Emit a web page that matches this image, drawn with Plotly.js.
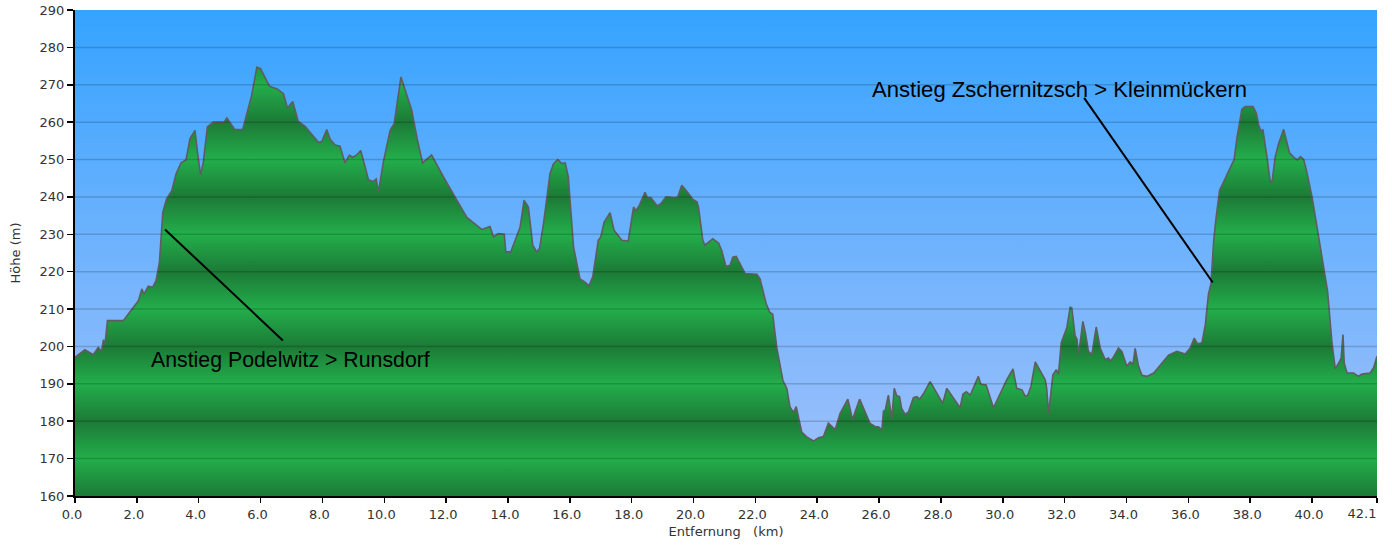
<!DOCTYPE html>
<html>
<head>
<meta charset="utf-8">
<script src="https://cdn.plot.ly/plotly-3.0.1.min.js"></script>
<style>html,body{margin:0;padding:0;background:#fff;}#chart{width:1392px;height:546px;}</style>
</head>
<body>
<div id="chart"></div>
<script>
// Distance along the route (km)
const distanceKm = [
  0, 0.32, 0.59, 0.75, 0.86, 0.92, 0.97, 1.05, 1.56, 2.05,
  2.16, 2.23, 2.37, 2.51, 2.62, 2.73, 2.84, 2.96, 3.13, 3.27,
  3.43, 3.59, 3.72, 3.88, 3.96, 4.06, 4.15, 4.28, 4.47, 4.82,
  4.91, 5.17, 5.42, 5.71, 5.88, 6.0, 6.29, 6.54, 6.74, 6.87,
  7.04, 7.22, 7.44, 7.87, 7.98, 8.14, 8.25, 8.41, 8.57, 8.73,
  8.87, 8.98, 9.09, 9.24, 9.49, 9.63, 9.74, 9.81, 9.97, 10.19,
  10.32, 10.54, 10.89,
  11.07, 11.24, 11.53, 11.91, 12.29, 12.67, 13.15, 13.42, 13.53, 13.69,
  13.88, 13.93, 14.09, 14.23, 14.39, 14.52, 14.66, 14.8, 14.93, 15.02,
  15.15, 15.36, 15.47, 15.61, 15.74, 15.85, 15.95, 16.12, 16.33, 16.49,
  16.62, 16.74, 16.92, 17.0, 17.11, 17.3, 17.43, 17.68, 17.89, 18.06,
  18.14, 18.25, 18.36, 18.43, 18.51, 18.62, 18.83, 18.94, 19.11, 19.35,
  19.49, 19.62, 19.84, 19.98, 20.11, 20.16, 20.3, 20.37, 20.62, 20.81,
  20.91, 21.05, 21.18, 21.27, 21.38, 21.49, 21.67, 22.05, 22.15, 22.35,
  22.46, 22.56, 22.69, 22.89, 23.02, 23.12,
  23.18, 23.25, 23.32, 23.5, 23.66, 23.88, 24.04, 24.2, 24.36, 24.58,
  24.74, 24.99, 25.14, 25.37, 25.71, 25.87, 25.98, 26.09, 26.14, 26.2,
  26.3, 26.41, 26.49, 26.57, 26.66, 26.73, 26.84, 26.95, 27.11, 27.22,
  27.31, 27.46, 27.65, 28.06, 28.19, 28.62, 28.71, 28.82, 28.95, 29.21,
  29.29, 29.46, 29.7, 30.13, 30.33, 30.45, 30.62, 30.72, 30.8, 30.91,
  31.05, 31.37, 31.42, 31.48, 31.62, 31.73, 31.8, 31.89, 32.02, 32.07,
  32.18, 32.23, 32.34, 32.4, 32.45, 32.5, 32.59, 32.67, 32.77, 32.88,
  33.02, 33.15, 33.31, 33.42, 33.47, 33.56, 33.74, 33.85, 34.01, 34.12,
  34.21, 34.28, 34.39, 34.5, 34.66, 34.88, 35.09, 35.36, 35.63, 35.9,
  36.06, 36.19, 36.3, 36.44, 36.55, 36.65, 36.73, 36.82, 36.9, 37.01,
  37.14, 37.33, 37.48, 37.57, 37.73, 37.84, 38.09, 38.2, 38.27, 38.35,
  38.41, 38.54, 38.65, 38.71, 38.81, 38.92, 39.08, 39.27, 39.42, 39.53,
  39.62, 39.73, 39.83, 40.0, 40.27, 40.46, 40.5, 40.64, 40.75, 40.89,
  40.94, 41.0, 41.04, 41.13, 41.34, 41.5, 41.61, 41.88, 41.99, 42.1
];

// Elevation (m)
const elevationM = [
  197.1, 199.1, 197.8, 199.7, 198.8, 201.8, 200.6, 206.9, 206.9, 212.2,
  215.4, 214.0, 216.1, 215.8, 217.6, 222.5, 235.9, 239.5, 241.7, 246.2,
  249.1, 249.9, 255.7, 257.8, 252.0, 245.9, 249.3, 258.7, 260.0, 260.0,
  261.1, 258.0, 258.0, 267.1, 274.7, 274.3, 269.6, 268.9, 267.6, 263.8,
  265.5, 260.2, 258.9, 254.6, 254.8, 258.0, 255.4, 253.9, 253.6, 249.1,
  251.1, 250.6, 251.1, 252.4, 244.6, 244.1, 244.8, 241.3, 249.3, 257.8,
  259.6, 272.1, 263.1,
  255.3, 249.1, 251.2, 245.4, 240.0, 234.5, 231.3, 232.1, 229.3, 230.2,
  230.0, 225.3, 225.3, 228.4, 231.8, 239.1, 237.3, 227.1, 225.3, 226.2,
  232.9, 246.3, 248.8, 250.0, 248.9, 249.1, 245.4, 226.6, 218.1, 217.2,
  216.2, 218.6, 228.4, 229.3, 233.3, 235.8, 231.1, 228.4, 228.2, 237.3,
  236.3, 237.8, 240.2, 241.2, 239.8, 239.8, 237.6, 238.2, 240.0, 239.8,
  240.0, 243.1, 240.9, 239.3, 238.7, 237.3, 228.4, 227.1, 228.8, 227.7,
  225.7, 221.4, 221.7, 223.9, 224.1, 222.3, 219.5, 219.3, 218.1, 211.4,
  209.2, 208.6, 199.8, 190.9, 188.7, 183.8,
  183.0, 182.5, 183.9, 177.1, 175.8, 174.7, 175.6, 175.9, 179.5, 177.8,
  182.1, 185.9, 180.5, 185.9, 179.4, 178.6, 178.5, 177.7, 182.7, 183.0,
  187.0, 180.7, 188.8, 186.8, 186.6, 183.4, 181.8, 182.5, 186.3, 186.6,
  185.9, 187.7, 190.6, 184.8, 188.8, 183.6, 187.2, 187.9, 187.0, 192.0,
  189.9, 189.7, 183.6, 191.1, 194.0, 188.8, 188.4, 186.8, 186.8, 189.3,
  195.9, 191.1, 188.8, 182.1, 192.4, 193.8, 192.6, 201.0, 204.1, 205.0,
  210.5, 210.3, 202.8, 201.9, 197.8, 201.6, 206.7, 203.7, 198.7, 197.8,
  205.2, 199.6, 196.5, 196.9, 196.1, 196.9, 199.6, 198.7, 194.7, 195.9,
  195.3, 199.5, 194.7, 192.3, 192.0, 192.9, 195.0, 197.7, 198.7, 198.0,
  199.6, 202.2, 200.7, 201.0, 205.9, 214.0, 216.7, 228.3, 234.6, 241.8,
  244.0, 247.6, 250.0, 255.7, 263.5, 264.2, 264.2, 262.4, 259.3, 257.5,
  258.1, 250.8, 244.0, 244.3, 250.8, 254.3, 258.1, 251.8, 250.5, 249.9,
  250.8, 250.0, 246.7, 240.0, 226.5, 216.7, 214.9, 201.4, 194.0, 196.0,
  196.9, 203.2, 195.6, 192.9, 192.9, 192.0, 192.6, 192.9, 194.3, 197.4
];

// Axis ticks
const xTickValues = [0,2,4,6,8,10,12,14,16,18,20,22,24,26,28,30,32,34,36,38,40,42.1];
const xTickLabels = ["0.0","2.0","4.0","6.0","8.0","10.0","12.0","14.0","16.0","18.0","20.0","22.0","24.0","26.0","28.0","30.0","32.0","34.0","36.0","38.0","40.0","42.1"];
const yTickValues = [160,170,180,190,200,210,220,230,240,250,260,270,280,290];

// Annotation labels
const climbLabels = ["Anstieg Podelwitz > Runsdorf", "Anstieg Zschernitzsch > Kleinmückern"];

const xMin = xTickValues[0], xMax = xTickValues[xTickValues.length-1];
const yMin = yTickValues[0], yMax = yTickValues[yTickValues.length-1];
const lastIdx = xTickLabels.length - 1;

// main axis shows all labels but the last; the last one is drawn left of its tick on an overlay axis
const xTickTextMain = xTickLabels.map(function(s, i){ return i === lastIdx ? '' : s; });

// banded green colorscale: dark at every 20 m from 160, bright in between
const darkGreen = '#1c7a36', brightGreen = '#23ae4b';
const greenScale = yTickValues.map(function(t, i){
  return [(t - yMin)/(yMax - yMin), (i % 2 === 0) ? darkGreen : brightGreen];
});

const background = {
  type: 'scatter', mode: 'lines',
  x: [xMin, xMax], y: [yMax, yMax],
  fill: 'tozeroy',
  line: {width: 0},
  fillgradient: {type: 'vertical', start: yMin, stop: yMax,
    colorscale: [[0, '#a3c1fa'], [0.5, '#70b3fd'], [1, '#35a3ff']]},
  hoverinfo: 'skip', showlegend: false
};

const profile = {
  type: 'scatter', mode: 'lines',
  x: distanceKm, y: elevationM,
  fill: 'tozeroy',
  line: {color: '#5e5e5e', width: 1.6},
  fillgradient: {type: 'vertical', start: yMin, stop: yMax, colorscale: greenScale},
  showlegend: false
};

// invisible carrier so the overlay axis is rendered
const overlayCarrier = {
  type: 'scatter', mode: 'markers', xaxis: 'x2', yaxis: 'y',
  x: [xMax], y: [yMin], marker: {opacity: 0, size: 1},
  hoverinfo: 'skip', showlegend: false
};

const gridShapes = yTickValues.slice(1, -1).map(function(t){
  return {type: 'line', xref: 'paper', yref: 'y', x0: 0, x1: 1, y0: t, y1: t,
    line: {color: 'rgba(0,0,0,0.17)', width: 1.5}, layer: 'above'};
});

const leaderShapes = [
  {type: 'line', xref: 'x', yref: 'y', x0: 2.91, y0: 231.3, x1: 6.72, y1: 201.6, line: {color: '#000', width: 2}},
  {type: 'line', xref: 'x', yref: 'y', x0: 32.63, y0: 266.5, x1: 36.79, y1: 217.1, line: {color: '#000', width: 2}}
];

const layout = {
  width: 1392, height: 546,
  margin: {l: 75, r: 15, t: 10, b: 50},
  paper_bgcolor: '#ffffff',
  plot_bgcolor: '#ffffff',
  font: {family: 'DejaVu Sans, Verdana, sans-serif', color: '#333333', size: 13},
  xaxis: {
    range: [xMin, xMax], tickvals: xTickValues, ticktext: xTickTextMain,
    showgrid: false, zeroline: false,
    showline: true, linecolor: '#000', linewidth: 2,
    ticks: 'outside', ticklen: 5, tickwidth: 1.5, tickcolor: '#000',
    ticklabelshift: -3,
    tickfont: {size: 13, color: '#333'},
    title: {text: 'Entfernung\u00a0\u00a0\u00a0(km)', font: {size: 13, color: '#333'}, standoff: 6}
  },
  xaxis2: {
    overlaying: 'x', anchor: 'y', side: 'bottom',
    range: [xMin, xMax], tickvals: [xTickValues[lastIdx]], ticktext: [xTickLabels[lastIdx]],
    showgrid: false, zeroline: false, showline: false,
    ticks: 'outside', ticklen: 9, tickcolor: 'rgba(0,0,0,0)',
    ticklabelposition: 'outside left', ticklabelstandoff: 5,
    tickfont: {size: 13, color: '#333'}
  },
  yaxis: {
    range: [yMin, yMax], tickvals: yTickValues,
    showgrid: false, zeroline: false,
    showline: true, linecolor: '#000', linewidth: 2,
    ticks: 'outside', ticklen: 6, tickwidth: 1.5, tickcolor: '#000',
    tickfont: {size: 13, color: '#333'},
    title: {text: 'Höhe (m)', font: {size: 13, color: '#333'}, standoff: 16}
  },
  shapes: gridShapes.concat(leaderShapes),
  annotations: [
    {x: 6.97, y: 196.3, xref: 'x', yref: 'y', text: climbLabels[0], showarrow: false,
      xanchor: 'center', yanchor: 'middle', font: {family: 'Liberation Sans, Arial, sans-serif', size: 21.3, color: '#000'}},
    {x: 31.84, y: 268.7, xref: 'x', yref: 'y', text: climbLabels[1], showarrow: false,
      xanchor: 'center', yanchor: 'middle', font: {family: 'Liberation Sans, Arial, sans-serif', size: 22.1, color: '#000'}}
  ]
};

Plotly.newPlot('chart', [background, profile, overlayCarrier], layout, {displayModeBar: false, staticPlot: true});
</script>
</body>
</html>
